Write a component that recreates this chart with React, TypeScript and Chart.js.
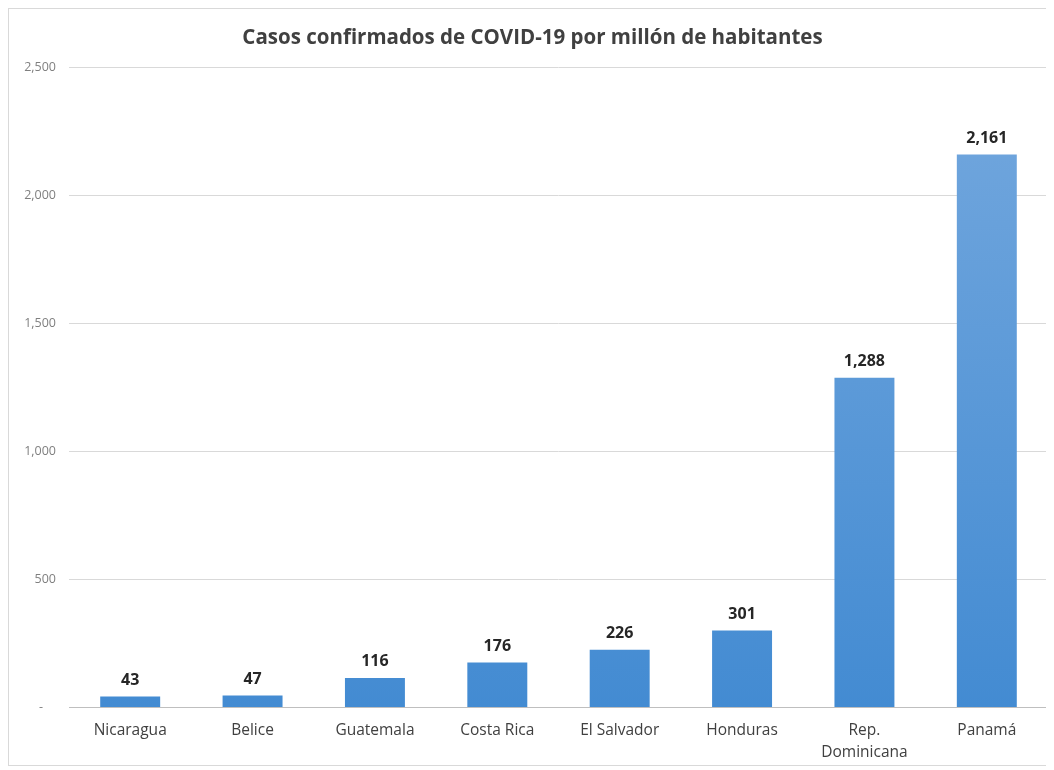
import React, { useEffect, useRef } from "react";
import { Chart, registerables } from "chart.js";

Chart.register(...registerables);

const TITLE = "Casos confirmados de COVID-19 por millón de habitantes";
const categories: (string | string[])[] = [
  "Nicaragua",
  "Belice",
  "Guatemala",
  "Costa Rica",
  "El Salvador",
  "Honduras",
  ["Rep.", "Dominicana"],
  "Panamá",
];
const casesPerMillion = [43, 47, 116, 176, 226, 301, 1288, 2161];
const yTicks = [0, 500, 1000, 1500, 2000, 2500];

const FONT = "'Open Sans', 'Noto Sans', sans-serif";

const valueLabels = {
  id: "valueLabels",
  afterDatasetsDraw(chart: any) {
    const ctx = chart.ctx;
    const meta = chart.getDatasetMeta(0);
    ctx.save();
    ctx.font = `bold 16px ${FONT}`;
    ctx.fillStyle = "#262626";
    ctx.textAlign = "center";
    ctx.textBaseline = "bottom";
    meta.data.forEach((bar: any, i: number) => {
      const v = chart.data.datasets[0].data[i] as number;
      ctx.fillText(v.toLocaleString("en-US"), bar.x, bar.y - 8);
    });
    ctx.restore();
  },
};

export default function App() {
  const ref = useRef<HTMLCanvasElement>(null);

  useEffect(() => {
    if (!ref.current) return;
    const chart = new Chart(ref.current, {
      type: "bar",
      data: {
        labels: categories,
        datasets: [
          {
            data: casesPerMillion,
            backgroundColor: (c: any) => {
              const { chart } = c;
              const area = chart.chartArea;
              if (!area) return "#5b9bd5";
              const g = chart.ctx.createLinearGradient(0, area.top, 0, area.bottom);
              g.addColorStop(0, "#74a8de");
              g.addColorStop(1, "#438bd2");
              return g;
            },
            borderWidth: 0,
            barPercentage: 0.49,
            categoryPercentage: 1,
          },
        ],
      },
      options: {
        animation: false,
        responsive: true,
        maintainAspectRatio: false,
        layout: { padding: { left: 8, right: 5, top: 0, bottom: -10 } },
        plugins: {
          legend: { display: false },
          tooltip: { enabled: false },
          title: {
            display: true,
            text: TITLE,
            color: "#404040",
            font: { family: FONT, size: 20.5, weight: "bold" },
            padding: { top: 17, bottom: 17 },
          },
        },
        scales: {
          x: {
            grid: { display: false, drawTicks: false },
            border: { display: true, color: "#bfbfbf", width: 1 },
            ticks: {
              color: "#404040",
              font: { family: FONT, size: 15.5, lineHeight: 1.4 },
              padding: 12,
              maxRotation: 0,
              autoSkip: false,
            },
          },
          y: {
            min: 0,
            max: 2500,
            afterBuildTicks: (axis: any) => {
              axis.ticks = yTicks.map((v) => ({ value: v }));
            },
            afterFit: (axis: any) => {
              axis.width = 52;
            },
            grid: { color: "#d9d9d9", drawTicks: false },
            border: { display: false },
            ticks: {
              color: "#7f7f7f",
              font: { family: FONT, size: 12.5 },
              padding: 13,
              callback: (v: any) => (v === 0 ? "-    " : Number(v).toLocaleString("en-US")),
            },
          },
        },
      },
      plugins: [valueLabels],
    });
    return () => chart.destroy();
  }, []);

  return (
    <div
      style={{
        width: 1044,
        height: 756,
        border: "1px solid #d9d9d9",
        background: "#fff",
        position: "relative",
      }}
    >
      <canvas ref={ref} />
    </div>
  );
}
